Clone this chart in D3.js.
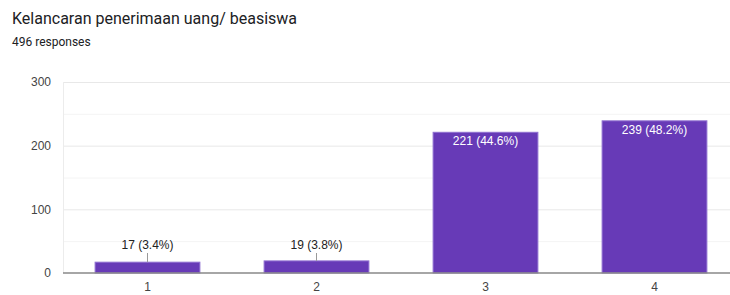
<!DOCTYPE html>
<html>
<head>
<meta charset="utf-8">
<script src="https://cdn.jsdelivr.net/npm/d3@7"></script>
<style>
  body { margin: 0; background: #fff; }
  svg { font-family: Roboto, Arial, sans-serif; }
</style>
</head>
<body>
<script>
// data
const categories = ["1", "2", "3", "4"];
const counts = [17, 19, 221, 239];
const percents = ["3.4%", "3.8%", "44.6%", "48.2%"];
const yTicks = [0, 100, 200, 300];
const minorTicks = [50, 150, 250];

const w = 730;
const h = 295;
const labelFont = "'Liberation Sans', Arial, sans-serif";

const svg = d3.select("body")
  .append("svg")
  .attr("width", w)
  .attr("height", h);

svg.append("text")
  .attr("x", 12)
  .attr("y", 24)
  .attr("font-size", 16)
  .attr("fill", "#202124")
  .text("Kelancaran penerimaan uang/ beasiswa");

svg.append("text")
  .attr("x", 12)
  .attr("y", 46)
  .attr("font-size", 12)
  .attr("fill", "#202124")
  .text(counts.reduce((a, b) => a + b, 0) + " responses");

const xScale = d3.scaleBand()
  .domain(categories)
  .range([63, 739])
  .paddingInner(0.38)
  .paddingOuter(0.19);

const yScale = d3.scaleLinear()
  .domain([0, 300])
  .range([273, 82]);

// grid lines
svg.append("g")
  .selectAll("line")
  .data(minorTicks)
  .enter()
  .append("line")
  .attr("x1", 63)
  .attr("x2", w)
  .attr("y1", (d) => yScale(d) + 0.5)
  .attr("y2", (d) => yScale(d) + 0.5)
  .attr("stroke", "#f4f4f4");

svg.append("g")
  .selectAll("line")
  .data(yTicks.slice(1))
  .enter()
  .append("line")
  .attr("x1", 63)
  .attr("x2", w)
  .attr("y1", (d) => yScale(d) + 0.5)
  .attr("y2", (d) => yScale(d) + 0.5)
  .attr("stroke", "#e8e8e8");

svg.append("line")
  .attr("x1", 63.5)
  .attr("x2", 63.5)
  .attr("y1", yScale(300))
  .attr("y2", yScale(0))
  .attr("stroke", "#ececec");

// y axis labels
const yAxis = d3.axisLeft(yScale).tickValues(yTicks).tickSize(0).tickPadding(12);
const gy = svg.append("g")
  .attr("transform", "translate(63,0)")
  .call(yAxis);
gy.select(".domain").remove();
gy.selectAll("text")
  .attr("font-family", labelFont)
  .attr("font-size", 12)
  .attr("fill", "#444");

// bars
const data = categories.map((c, i) => ({ c: c, v: counts[i], p: percents[i] }));

svg.selectAll("rect.bar")
  .data(data)
  .enter()
  .append("rect")
  .attr("class", "bar")
  .attr("x", (d) => xScale(d.c))
  .attr("y", (d) => yScale(d.v))
  .attr("width", xScale.bandwidth())
  .attr("height", (d) => yScale(0) - yScale(d.v))
  .attr("fill", "#673ab7")
  .attr("stroke", "#8f6fd0")
  .attr("stroke-width", 1);

// baseline
svg.append("line")
  .attr("x1", 63)
  .attr("x2", w)
  .attr("y1", yScale(0))
  .attr("y2", yScale(0))
  .attr("stroke", "#888")
  .attr("stroke-width", 1.5);

// x axis labels
const xAxis = d3.axisBottom(xScale).tickSize(0).tickPadding(9);
const gx = svg.append("g")
  .attr("transform", `translate(0, ${yScale(0)})`)
  .call(xAxis);
gx.select(".domain").remove();
gx.selectAll("text")
  .attr("font-family", labelFont)
  .attr("font-size", 12)
  .attr("fill", "#444");

// value labels
const inside = (d) => yScale(0) - yScale(d.v) > 30;

svg.selectAll("line.leader")
  .data(data.filter((d) => !inside(d)))
  .enter()
  .append("line")
  .attr("class", "leader")
  .attr("x1", (d) => xScale(d.c) + xScale.bandwidth() / 2)
  .attr("x2", (d) => xScale(d.c) + xScale.bandwidth() / 2)
  .attr("y1", 253)
  .attr("y2", (d) => yScale(d.v))
  .attr("stroke", "#999");

svg.selectAll("text.val")
  .data(data)
  .enter()
  .append("text")
  .attr("class", "val")
  .attr("x", (d) => xScale(d.c) + xScale.bandwidth() / 2)
  .attr("y", (d) => inside(d) ? yScale(d.v) + 13 : 249)
  .attr("text-anchor", "middle")
  .attr("font-family", labelFont)
  .attr("font-size", 12)
  .attr("fill", (d) => inside(d) ? "#fff" : "#222")
  .text((d) => `${d.v} (${d.p})`);
</script>
</body>
</html>
